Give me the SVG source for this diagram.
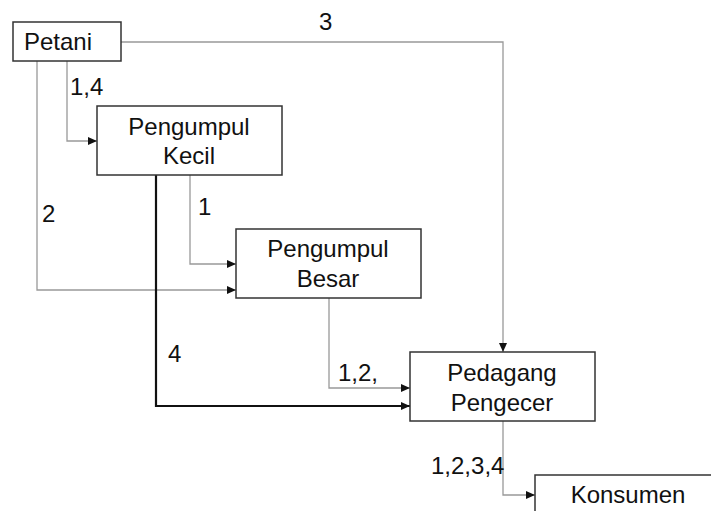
<svg xmlns="http://www.w3.org/2000/svg" width="711" height="511" viewBox="0 0 711 511">
<style>
.box{fill:#fff;stroke:#333;stroke-width:1.5}
.t{font-family:"Liberation Sans",Arial,sans-serif;font-size:24px;fill:#111}
.c{text-anchor:middle}
.thin{fill:none;stroke:#999;stroke-width:1.3}
.thick{fill:none;stroke:#111;stroke-width:2.2}
</style>
<defs>
<marker id="ah" markerWidth="9" markerHeight="8" refX="9" refY="4" orient="auto" markerUnits="userSpaceOnUse">
<path d="M0,0 L9,4 L0,8 Z" fill="#111"/>
</marker>
</defs>
<rect width="711" height="511" fill="#fff"/>
<g id="connectors">
<path class="thin" d="M121,42 H503 V352" marker-end="url(#ah)"/>
<path class="thin" d="M67,61 V141 H97" marker-end="url(#ah)"/>
<path class="thin" d="M37,61 V290 H236" marker-end="url(#ah)"/>
<path class="thin" d="M190,175 V264 H236" marker-end="url(#ah)"/>
<path class="thick" d="M156,175 V406 H410" marker-end="url(#ah)"/>
<path class="thin" d="M329,298 V388 H410" marker-end="url(#ah)"/>
<path class="thin" d="M503,421 V495 H535" marker-end="url(#ah)"/>
<text class="t" x="319" y="30">3</text>
<text class="t" x="70" y="95">1,4</text>
<text class="t" x="42" y="222">2</text>
<text class="t" x="198" y="215">1</text>
<text class="t" x="168" y="362">4</text>
<text class="t" x="338" y="381">1,2,</text>
<text class="t" x="431" y="474">1,2,3,4</text>
</g>
<g id="petani">
<rect class="box" x="13" y="22" width="108" height="39"/>
<text class="t" x="24" y="50">Petani</text>
</g>
<g id="pengumpul-kecil">
<rect class="box" x="97" y="106" width="185" height="69"/>
<text class="t c" x="189" y="135">Pengumpul</text>
<text class="t c" x="189" y="164">Kecil</text>
</g>
<g id="pengumpul-besar">
<rect class="box" x="236" y="229" width="185" height="69"/>
<text class="t c" x="328" y="257">Pengumpul</text>
<text class="t c" x="328" y="287">Besar</text>
</g>
<g id="pedagang-pengecer">
<rect class="box" x="410" y="352" width="185" height="69"/>
<text class="t c" x="502" y="381">Pedagang</text>
<text class="t c" x="502" y="411">Pengecer</text>
</g>
<g id="konsumen">
<rect class="box" x="535" y="475" width="185" height="69"/>
<text class="t c" x="628" y="503">Konsumen</text>
</g>
</svg>
